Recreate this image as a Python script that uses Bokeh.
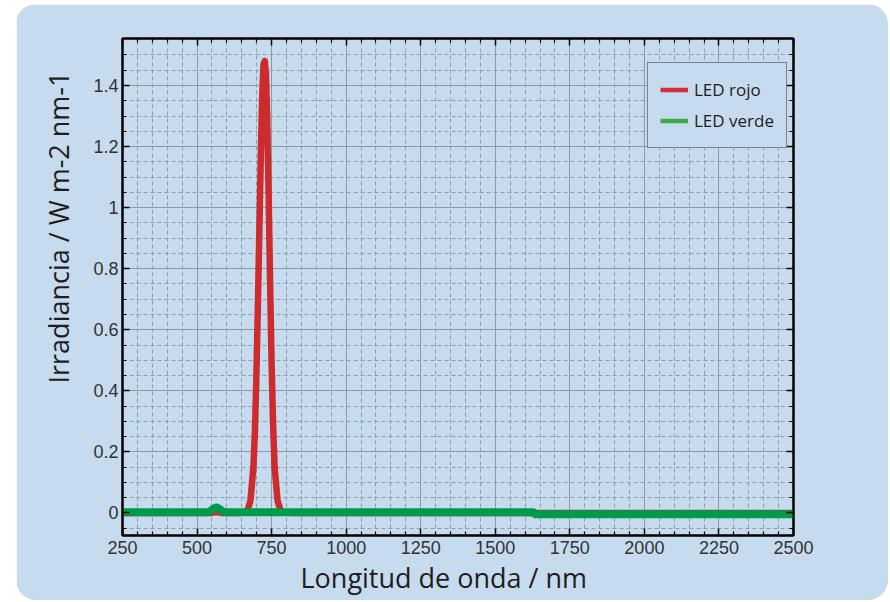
from bokeh.plotting import figure
from bokeh.models import FixedTicker, LinearAxis, Legend, LegendItem, Range1d, Title
from bokeh.embed import file_html
from bokeh.resources import INLINE

# ---------------- data ----------------
x_major_ticks = [250, 500, 750, 1000, 1250, 1500, 1750, 2000, 2250, 2500]
x_minor_ticks = [300, 350, 400, 450, 550, 600, 650, 700, 800, 850, 900, 950,
                 1050, 1100, 1150, 1200, 1300, 1350, 1400, 1450, 1550, 1600,
                 1650, 1700, 1800, 1850, 1900, 1950, 2050, 2100, 2150, 2200,
                 2300, 2350, 2400, 2450]
y_major_ticks = [0, 0.2, 0.4, 0.6, 0.8, 1, 1.2, 1.4]
y_minor_ticks = [-0.05, 0.05, 0.1, 0.15, 0.25, 0.3, 0.35, 0.45, 0.5, 0.55,
                 0.65, 0.7, 0.75, 0.85, 0.9, 0.95, 1.05, 1.1, 1.15, 1.25,
                 1.3, 1.35, 1.45, 1.5]

red_wl = [250, 550, 565, 580, 640, 659, 669, 679, 689, 694, 699, 704, 709,
          714, 719, 723, 727, 731, 735, 740, 745, 750, 755, 760, 770,
          780, 790, 820, 2500]
red_irr = [0.0, 0.0, 0.003, 0.0, 0.0, 0.001, 0.008, 0.04, 0.15, 0.265,
           0.45, 0.68, 0.93, 1.18, 1.38, 1.47, 1.48, 1.44, 1.30, 1.04,
           0.75, 0.49, 0.29, 0.15, 0.04, 0.008, 0.001, 0.0, 0.0]

green_wl = [250, 535, 545, 555, 565, 575, 585, 600, 1628, 1632, 2500]
green_irr = [0.002, 0.002, 0.006, 0.014, 0.018, 0.013, 0.005, 0.002, 0.002,
             -0.004, -0.004]

series_labels = ["LED rojo", "LED verde"]
x_title = "Longitud de onda / nm"
y_title = "Irradiancia / W m-2 nm-1"

# ---------------- styling ----------------
BG = "#c6dbed"
RED = "#cd2b2e"
GREEN = "#009a4b"
LEG_RED = "#d22f3a"
LEG_GREEN = "#3bab4b"
TICK_FONT = "Liberation Sans"
LABEL_FONT = "Open Sans"

p = figure(
    width=872, height=596,
    x_range=Range1d(250, 2500), y_range=Range1d(-0.074, 1.554),
    output_backend="svg", toolbar_location=None,
    min_border_left=106, min_border_right=95,
    min_border_top=34, min_border_bottom=65,
    background_fill_color=BG, border_fill_color=BG,
    outline_line_color="black", outline_line_width=2,
    styles={"position": "absolute", "left": "16px", "top": "4px",
            "border-radius": "20px", "overflow": "hidden"},
)

bottom_axis = p.below[0]
left_axis = p.left[0]

xt = FixedTicker(ticks=x_major_ticks, minor_ticks=x_minor_ticks)
yt = FixedTicker(ticks=y_major_ticks, minor_ticks=y_minor_ticks)

top_axis = LinearAxis()
right_axis = LinearAxis()
p.add_layout(top_axis, "above")
p.add_layout(right_axis, "right")

bottom_axis.ticker = xt
top_axis.ticker = xt
left_axis.ticker = yt
right_axis.ticker = yt

for ax in [bottom_axis, left_axis, top_axis, right_axis]:
    ax.axis_line_color = "black"
    ax.axis_line_width = 2
    ax.major_tick_in = 7
    ax.major_tick_out = 0
    ax.minor_tick_in = 4
    ax.minor_tick_out = 0
    ax.major_tick_line_color = "black"
    ax.major_tick_line_width = 1.5
    ax.minor_tick_line_color = "black"
    ax.minor_tick_line_width = 1.2
    ax.major_label_text_font = TICK_FONT
    ax.major_label_text_font_size = "18px"
    ax.major_label_text_color = "#333333"

for ax in [top_axis, right_axis]:
    ax.major_label_text_alpha = 0
    ax.major_label_text_font_size = "1px"

bottom_axis.major_label_standoff = 5
left_axis.major_label_standoff = 4
left_axis.major_label_overrides = {0: "0", 1: "1"}

# axis titles (the reference does not centre them on the frame)
p.add_layout(Title(text=x_title, align="left", offset=178,
                   vertical_align="bottom", standoff=0,
                   text_font=LABEL_FONT, text_font_size="27px",
                   text_font_style="normal", text_color="#1e1e1e"), "below")
p.add_layout(Title(text=y_title, align="left", offset=152,
                   vertical_align="top", standoff=24,
                   text_font=LABEL_FONT, text_font_size="27px",
                   text_font_style="normal", text_color="#1e1e1e"), "left")

for g, t in [(p.xgrid[0], xt), (p.ygrid[0], yt)]:
    g.ticker = t
    g.grid_line_color = "#8d9aa7"
    g.grid_line_width = 1
    g.minor_grid_line_color = "#8f9dab"
    g.minor_grid_line_width = 1
    g.minor_grid_line_dash = "4 3"

# legend-styled lines (thinner, hidden under the data lines)
leg_r = p.line(red_wl, red_irr, line_color=LEG_RED, line_width=4.5)
leg_g = p.line(green_wl, green_irr, line_color=LEG_GREEN, line_width=4.5)

p.line(red_wl, red_irr, line_color=RED, line_width=6.5,
       line_join="round", line_cap="round")
p.line(green_wl, green_irr, line_color=GREEN, line_width=8,
       line_join="round", line_cap="butt")

legend = Legend(
    items=[LegendItem(label=series_labels[0], renderers=[leg_r]),
           LegendItem(label=series_labels[1], renderers=[leg_g])],
    location=(525, 387),
    border_line_color="#2a2a2a", border_line_width=1.2,
    background_fill_color=BG, background_fill_alpha=1,
    label_text_font=LABEL_FONT, label_text_font_size="17px",
    label_text_color="#1e1e1e",
    glyph_width=28, glyph_height=29, label_height=29,
    label_standoff=6, padding=12, spacing=2, margin=0,
)
p.add_layout(legend, "center")

open("out.html", "w").write(file_html(p, INLINE))
